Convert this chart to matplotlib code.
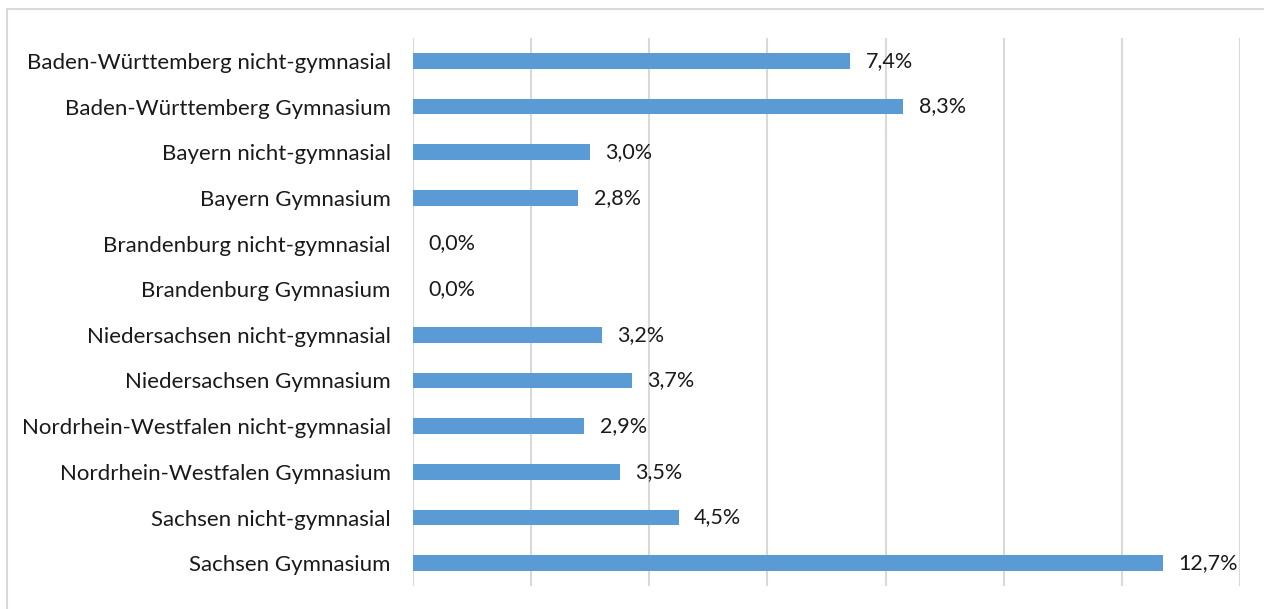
from matplotlib import pyplot as plt
from matplotlib.patches import Rectangle

categories = ['Baden-Württemberg nicht-gymnasial', 'Baden-Württemberg Gymnasium',
              'Bayern nicht-gymnasial', 'Bayern Gymnasium',
              'Brandenburg nicht-gymnasial', 'Brandenburg Gymnasium',
              'Niedersachsen nicht-gymnasial', 'Niedersachsen Gymnasium',
              'Nordrhein-Westfalen nicht-gymnasial', 'Nordrhein-Westfalen Gymnasium',
              'Sachsen nicht-gymnasial', 'Sachsen Gymnasium']
values = [7.4, 8.3, 3.0, 2.8, 0.0, 0.0, 3.2, 3.7, 2.9, 3.5, 4.5, 12.7]

plt.rcParams['font.family'] = ['Lato', 'DejaVu Sans']

fig = plt.figure(figsize=(12.64, 6.09), dpi=100)
ax = fig.add_axes([413 / 1264, 1 - 586 / 609, (1240 - 413) / 1264, (586 - 38) / 609])

y = list(range(len(categories)))
ax.barh(y, values, height=0.35, color='#5B9BD5', zorder=3)
for yi, v in zip(y, values):
    ax.annotate(f'{v:.1f}%'.replace('.', ','), (v, yi), xytext=(11, 0),
                textcoords='offset points', va='center', ha='left',
                fontsize=15.5, color='#1a1a1a')

ax.set_xlim(0, 14)
ax.set_ylim(len(categories) - 0.5, -0.5)
ax.set_xticks(range(0, 15, 2))
ax.set_xticklabels([])
ax.set_yticks(y)
ax.set_yticklabels(categories, fontsize=16, color='#1a1a1a')
ax.tick_params(axis='both', length=0, pad=16)
ax.grid(axis='x', color='#D9D9D9', linewidth=1.5, zorder=0)
for s in ax.spines.values():
    s.set_visible(False)

# light border around the chart area
fig.patches.append(Rectangle((7 / 1264, -0.01), 1.1, 1 - 9 / 609 + 0.01,
                             transform=fig.transFigure, fill=False,
                             edgecolor='#D9D9D9', linewidth=1.5))

fig.savefig('out.png', dpi=100)
